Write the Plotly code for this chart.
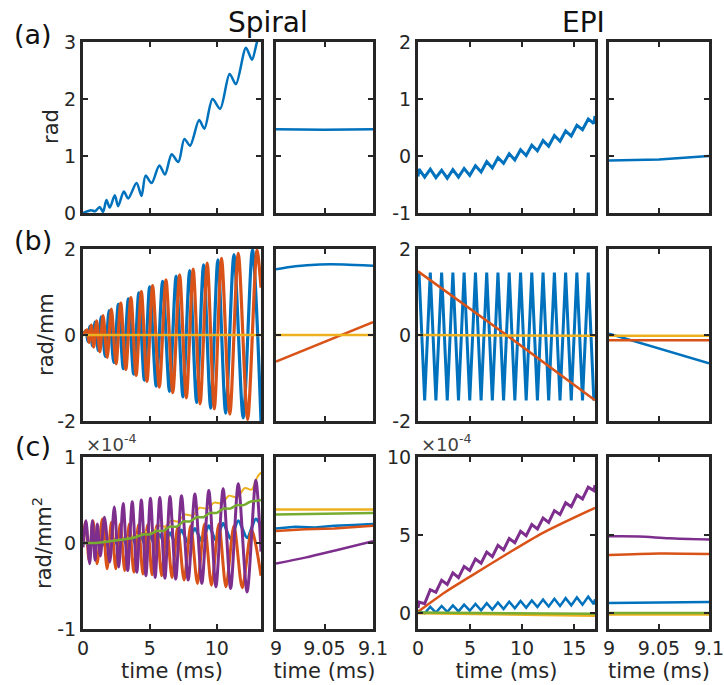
import plotly.graph_objects as go

W, H = 724, 685

# ---------------- colours (MATLAB default order) ----------------
C_BLUE, C_ORANGE, C_YELLOW, C_PURPLE, C_GREEN = "#0072BD", "#D95319", "#EDB120", "#7E2F8E", "#77AC30"

# ---------------- data: Spiral ----------------
# (a) rad
sp_a_t = [0, 0.6, 0.9, 1.25, 1.5, 1.75, 2.0, 2.375, 2.625, 3.05, 3.375, 4.0, 4.375, 4.675, 5.125, 5.7, 6.125,
          6.625, 7.125, 7.575, 8.0, 8.675, 9.075, 9.675, 10.25, 10.95, 11.425, 12.175, 12.625, 13.0, 13.3]
sp_a_v = [0, 0.05, 0.03, 0.107, 0.02, 0.227, 0.095, 0.31, 0.12, 0.376, 0.256, 0.525, 0.3, 0.656, 0.525, 0.835, 0.674,
          1.03, 0.894, 1.3, 1.18, 1.63, 1.48, 2.0, 1.83, 2.44, 2.26, 2.9, 2.69, 3.0, 3.2]
sp_az_t = [9.0, 9.05, 9.1]
sp_az_v = [1.47, 1.46, 1.47]

# (b) rad/mm
sp_b_blue_t = [0, 0.22, 0.37, 0.52, 0.71, 0.9, 1.14, 1.36, 1.66, 1.95, 2.3, 2.64, 3.01, 3.39, 3.78, 4.17, 4.58,
               4.98, 5.47, 5.95, 6.46, 6.96, 7.47, 7.97, 8.49, 9.01, 9.54, 10.08, 10.66, 11.28, 11.97, 12.66, 13.3]
sp_b_blue_v = [0, 0.1, -0.15, 0.2, -0.25, 0.3, -0.36, 0.42, -0.5, 0.57, -0.64, 0.71, -0.78, 0.84, -0.91, 0.98, -1.05,
               1.12, -1.19, 1.25, -1.31, 1.37, -1.44, 1.5, -1.57, 1.63, -1.7, 1.75, -1.82, 1.87, -1.93, 1.98, -2.0]
sp_b_orange_t = [0, 0.3, 0.45, 0.62, 0.8, 1.02, 1.26, 1.5, 1.81, 2.12, 2.47, 2.82, 3.2, 3.58, 3.97, 4.36, 4.78,
                 5.2, 5.7, 6.2, 6.71, 7.22, 7.72, 8.23, 8.75, 9.28, 9.81, 10.35, 10.97, 11.6, 12.3, 13.0, 13.3]
sp_b_orange_v = [0, 0.12, -0.17, 0.23, -0.28, 0.33, -0.39, 0.45, -0.52, 0.6, -0.67, 0.74, -0.8, 0.87, -0.94, 1.01,
                 -1.08, 1.15, -1.21, 1.28, -1.34, 1.4, -1.46, 1.53, -1.6, 1.67, -1.72, 1.78, -1.84, 1.9, -1.96, 1.98, 1.1]
sp_b_yellow_t = [0, 13.3]
sp_b_yellow_v = [0, 0]
sp_bz_blue_t = [9.0, 9.02, 9.045, 9.07, 9.1]
sp_bz_blue_v = [1.53, 1.6, 1.64, 1.64, 1.61]
sp_bz_orange_t = [9.0, 9.1]
sp_bz_orange_v = [-0.62, 0.3]
sp_bz_yellow_t = [9.0, 9.1]
sp_bz_yellow_v = [0, 0]

# (c) rad/mm^2, in units of 1e-4
sp_c_blue_t = [0, 1, 2.0, 2.34, 2.67, 3.0, 3.34, 3.68, 4.02, 4.36, 4.7, 5.04, 5.39, 5.74, 6.12, 6.5, 6.93, 7.36,
               7.86, 8.36, 8.88, 9.4, 9.93, 10.47, 11.03, 11.6, 12.26, 12.91, 13.3]
sp_c_blue_v = [0, 0, -0.03, 0.04, -0.04, 0.05, -0.04, 0.06, -0.04, 0.07, -0.04, 0.08, -0.03, 0.1, -0.02, 0.12, -0.01,
               0.15, 0.0, 0.17, 0.02, 0.2, 0.03, 0.23, 0.05, 0.26, 0.06, 0.28, 0.2]
sp_c_orange_t = [0, 0.2, 0.45, 0.75, 1.05, 1.45, 1.8, 2.12, 2.45, 2.78, 3.12, 3.46, 3.8, 4.14, 4.48, 4.82, 5.16, 5.5,
                 5.88, 6.25, 6.65, 7.08, 7.55, 8.05, 8.55, 9.08, 9.6, 10.15, 10.68, 11.28, 11.9, 12.6, 13.3]
sp_c_orange_v = [0, 0.25, -0.2, 0.26, -0.24, 0.28, -0.3, 0.24, -0.3, 0.22, -0.32, 0.22, -0.34, 0.21, -0.36, 0.21, -0.37,
                 0.2, -0.38, 0.2, -0.4, 0.19, -0.43, 0.2, -0.47, 0.22, -0.49, 0.22, -0.51, 0.2, -0.52, 0.15, -0.38]
sp_c_yellow_t = [0, 1, 2, 3, 4, 4.7, 5.2, 5.7, 6.2, 6.6, 7.1, 7.6, 8.2, 8.7, 9.3, 9.8, 10.4, 10.9, 11.5, 12.1, 12.6,
                 13.0, 13.3]
sp_c_yellow_v = [0, 0.01, 0.03, 0.05, 0.09, 0.13, 0.12, 0.2, 0.19, 0.26, 0.25, 0.33, 0.32, 0.41, 0.4, 0.47, 0.46, 0.55,
                 0.53, 0.64, 0.62, 0.76, 0.82]
sp_c_purple_t = [0, 0.22, 0.5, 0.7, 0.9, 1.07, 1.3, 1.6, 2.0, 2.34, 2.67, 3.0, 3.34, 3.68, 4.02, 4.36, 4.7, 5.04,
                 5.39, 5.74, 6.12, 6.5, 6.93, 7.36, 7.86, 8.36, 8.88, 9.4, 9.93, 10.47, 11.03, 11.6, 12.26, 12.91, 13.3]
sp_c_purple_v = [-0.05, 0.26, -0.24, 0.26, -0.2, 0.22, -0.15, 0.3, -0.22, 0.42, -0.28, 0.46, -0.32, 0.48, -0.34, 0.5,
                 -0.38, 0.52, -0.4, 0.53, -0.41, 0.54, -0.42, 0.55, -0.43, 0.57, -0.47, 0.61, -0.51, 0.63, -0.53, 0.69,
                 -0.57, 0.73, -0.1]
sp_c_green_t = [0, 1, 2, 3, 4, 4.5, 5, 5.5, 6, 6.5, 7, 7.5, 8, 8.5, 9, 9.5, 10, 10.5, 11, 11.5, 12, 12.5, 13, 13.3]
sp_c_green_v = [0, 0, 0.02, 0.04, 0.07, 0.1, 0.1, 0.14, 0.14, 0.19, 0.19, 0.25, 0.25, 0.3, 0.3, 0.35, 0.35, 0.4, 0.4,
                0.44, 0.44, 0.48, 0.49, 0.5]
sp_cz_t_blue = [9.0, 9.02, 9.04, 9.06, 9.08, 9.1]
sp_cz_blue_v = [0.17, 0.19, 0.18, 0.2, 0.21, 0.22]
sp_cz_t_orange = [9.0, 9.03, 9.06, 9.1]
sp_cz_orange_v = [0.14, 0.16, 0.17, 0.2]
sp_cz_t_yellow = [9.0, 9.1]
sp_cz_yellow_v = [0.39, 0.39]
sp_cz_t_purple = [9.0, 9.03, 9.06, 9.1]
sp_cz_purple_v = [-0.24, -0.17, -0.09, 0.02]
sp_cz_t_green = [9.0, 9.1]
sp_cz_green_v = [0.33, 0.35]

# ---------------- data: EPI ----------------
epi_t = [0, 0.1, 0.64, 1.18, 1.72, 2.27, 2.81, 3.35, 3.89, 4.43, 4.97, 5.52, 6.06, 6.6, 7.14, 7.68, 8.22, 8.76,
         9.3, 9.85, 10.39, 10.93, 11.47, 12.01, 12.55, 13.1, 13.64, 14.18, 14.72, 15.26, 15.8, 16.35, 16.89, 17.0]
epi_a_v = [-0.36, -0.23, -0.37, -0.23, -0.38, -0.25, -0.39, -0.24, -0.37, -0.22, -0.34, -0.17, -0.28, -0.10, -0.21,
           -0.03, -0.13, 0.04, -0.07, 0.11, 0.01, 0.19, 0.09, 0.27, 0.17, 0.36, 0.26, 0.44, 0.35, 0.54, 0.46, 0.65,
           0.57, 0.7]
epi_az_t = [9.0, 9.05, 9.1]
epi_az_v = [-0.08, -0.06, 0.0]

epi_b_blue_v = [1.2, 1.45, -1.52, 1.45, -1.52, 1.45, -1.52, 1.45, -1.52, 1.45, -1.52, 1.45, -1.52, 1.45, -1.52,
                1.45, -1.52, 1.45, -1.52, 1.45, -1.52, 1.45, -1.52, 1.45, -1.52, 1.45, -1.52, 1.45, -1.52, 1.45,
                -1.52, 1.45, -1.52, -1.3]
epi_b_orange_t = [0, 8.5, 17]
epi_b_orange_v = [1.48, 0, -1.52]
epi_b_yellow_t = [0, 17]
epi_b_yellow_v = [0, -0.02]
epi_bz_blue_t = [9.0, 9.1]
epi_bz_blue_v = [0.03, -0.66]
epi_bz_orange_t = [9.0, 9.1]
epi_bz_orange_v = [-0.12, -0.12]
epi_bz_yellow_t = [9.0, 9.1]
epi_bz_yellow_v = [-0.02, -0.02]

epi_c_blue_v = [0.12, 0.15, 0.01, 0.42, 0.05, 0.47, 0.09, 0.51, 0.13, 0.56, 0.17, 0.6, 0.2, 0.65, 0.24, 0.7, 0.28,
                0.74, 0.32, 0.79, 0.36, 0.83, 0.4, 0.88, 0.44, 0.93, 0.47, 0.97, 0.51, 1.02, 0.55, 1.07, 0.59, 0.9]
epi_c_orange_t = [0, 2.6, 5, 8.3, 12, 17]
epi_c_orange_v = [0.1, 1.35, 2.35, 3.7, 5.15, 6.75]
epi_c_yellow_t = [0, 17]
epi_c_yellow_v = [0.0, -0.15]
epi_c_purple_v = [0.35, 0.72, 0.62, 1.51, 1.35, 2.12, 1.85, 2.59, 2.28, 3.0, 2.74, 3.48, 3.21, 3.92, 3.63, 4.35, 4.06,
                  4.79, 4.52, 5.25, 4.97, 5.68, 5.4, 6.1, 5.82, 6.57, 6.32, 7.07, 6.82, 7.57, 7.32, 8.07, 7.85, 8.2]
epi_c_green_t = [0, 17]
epi_c_green_v = [0.05, -0.02]
epi_cz_t = [9.0, 9.1]
epi_cz_blue_v = [0.67, 0.73]
epi_cz_green_v = [0.02, 0.02]
epi_cz_yellow_v = [-0.08, -0.08]
epi_cz_purple_t = [9.0, 9.03, 9.06, 9.1]
epi_cz_purple_v = [4.93, 4.92, 4.8, 4.72]
epi_cz_orange_t = [9.0, 9.05, 9.1]
epi_cz_orange_v = [3.73, 3.83, 3.8]

# ---------------- axis settings ----------------
col_px = [(83, 261), (276, 373), (418, 595), (609, 709)]
row_px = [(42, 213), (249, 421), (457, 629)]
x_ranges = [[0, 13.3], [9, 9.1], [0, 17], [9, 9.1]]
x_ticks = [[0, 5, 10], [9, 9.05, 9.1], [0, 5, 10, 15], [9, 9.05, 9.1]]
x_ticktext = [["0", "5", "10"], ["9", "9.05", "9.1"], ["0", "5", "10", "15"], ["9", "9.05", "9.1"]]
y_ranges = [[[0, 3], [-1, 2]], [[-2, 2], [-2, 2]], [[-1, 1], [-1, 10]]]
y_ticks = [[[0, 1, 2, 3], [-1, 0, 1, 2]], [[-2, 0, 2], [-2, 0, 2]], [[-1, 0, 1], [0, 5, 10]]]
y_ticktext = [[["0", "1", "2", "3"], ["-1", "0", "1", "2"]], [["-2", "0", "2"], ["-2", "0", "2"]],
              [["-1", "0", "1"], ["0", "5", "10"]]]

FONT = "DejaVu Sans"
AX_COL = "#262626"

fig = go.Figure()


def pid(r, c):
    return r * 4 + c + 1


def add(r, c, t, v, color, width=2.5, spline=False):
    p = pid(r, c)
    fig.add_trace(go.Scatter(
        x=t, y=v, mode="lines",
        line=dict(color=color, width=width, shape="spline" if spline else "linear", smoothing=0.8),
        xaxis="x" if p == 1 else f"x{p}", yaxis="y" if p == 1 else f"y{p}",
        showlegend=False, hoverinfo="skip"))


# Row a
add(0, 0, sp_a_t, sp_a_v, C_BLUE, 2.5, spline=True)
add(0, 1, sp_az_t, sp_az_v, C_BLUE, 2.5)
add(0, 2, epi_t, epi_a_v, C_BLUE, 3)
add(0, 3, epi_az_t, epi_az_v, C_BLUE, 2.5)
# Row b
add(1, 0, sp_b_blue_t, sp_b_blue_v, C_BLUE, 3.2, spline=True)
add(1, 0, sp_b_orange_t, sp_b_orange_v, C_ORANGE, 3.2, spline=True)
add(1, 0, sp_b_yellow_t, sp_b_yellow_v, C_YELLOW, 2.5)
add(1, 1, sp_bz_blue_t, sp_bz_blue_v, C_BLUE, 2.5, spline=True)
add(1, 1, sp_bz_orange_t, sp_bz_orange_v, C_ORANGE, 2.5)
add(1, 1, sp_bz_yellow_t, sp_bz_yellow_v, C_YELLOW, 2.5)
add(1, 2, epi_t, epi_b_blue_v, C_BLUE, 3)
add(1, 2, epi_b_orange_t, epi_b_orange_v, C_ORANGE, 2.5)
add(1, 2, epi_b_yellow_t, epi_b_yellow_v, C_YELLOW, 2.5)
add(1, 3, epi_bz_blue_t, epi_bz_blue_v, C_BLUE, 2.5)
add(1, 3, epi_bz_orange_t, epi_bz_orange_v, C_ORANGE, 2.5)
add(1, 3, epi_bz_yellow_t, epi_bz_yellow_v, C_YELLOW, 2.5)
# Row c
add(2, 0, sp_c_blue_t, sp_c_blue_v, C_BLUE, 3, spline=True)
add(2, 0, sp_c_orange_t, sp_c_orange_v, C_ORANGE, 3, spline=True)
add(2, 0, sp_c_yellow_t, sp_c_yellow_v, C_YELLOW, 2, spline=True)
add(2, 0, sp_c_purple_t, sp_c_purple_v, C_PURPLE, 3, spline=True)
add(2, 0, sp_c_green_t, sp_c_green_v, C_GREEN, 2.5, spline=True)
add(2, 1, sp_cz_t_blue, sp_cz_blue_v, C_BLUE, 2.5)
add(2, 1, sp_cz_t_orange, sp_cz_orange_v, C_ORANGE, 2.5)
add(2, 1, sp_cz_t_yellow, sp_cz_yellow_v, C_YELLOW, 2.5)
add(2, 1, sp_cz_t_purple, sp_cz_purple_v, C_PURPLE, 2.5, spline=True)
add(2, 1, sp_cz_t_green, sp_cz_green_v, C_GREEN, 2.5)
add(2, 2, epi_t, epi_c_blue_v, C_BLUE, 2.5)
add(2, 2, epi_c_orange_t, epi_c_orange_v, C_ORANGE, 2.5, spline=True)
add(2, 2, epi_c_yellow_t, epi_c_yellow_v, C_YELLOW, 2.5)
add(2, 2, epi_t, epi_c_purple_v, C_PURPLE, 3)
add(2, 2, epi_c_green_t, epi_c_green_v, C_GREEN, 2.5)
add(2, 3, epi_cz_t, epi_cz_blue_v, C_BLUE, 2.5)
add(2, 3, epi_cz_orange_t, epi_cz_orange_v, C_ORANGE, 2.5, spline=True)
add(2, 3, epi_cz_t, epi_cz_yellow_v, C_YELLOW, 2.5)
add(2, 3, epi_cz_purple_t, epi_cz_purple_v, C_PURPLE, 2.5, spline=True)
add(2, 3, epi_cz_t, epi_cz_green_v, C_GREEN, 2.5)

layout = dict(
    width=W, height=H, margin=dict(l=0, r=0, t=0, b=0, autoexpand=False),
    paper_bgcolor="white", plot_bgcolor="white",
    font=dict(family=FONT, color=AX_COL, size=19),
)

for r in range(3):
    for c in range(4):
        p = pid(r, c)
        xk = "xaxis" if p == 1 else f"xaxis{p}"
        yk = "yaxis" if p == 1 else f"yaxis{p}"
        x0, x1 = col_px[c]
        y0, y1 = row_px[r]
        g = c // 2
        layout[xk] = dict(
            domain=[x0 / W, x1 / W], range=x_ranges[c], anchor="y" if p == 1 else f"y{p}",
            tickmode="array", tickvals=x_ticks[c], ticktext=x_ticktext[c],
            showticklabels=(r == 2), ticks="inside", ticklen=5, tickwidth=2, tickcolor=AX_COL,
            showline=True, linewidth=3, linecolor=AX_COL, mirror="allticks",
            showgrid=False, zeroline=False, fixedrange=True, automargin=False,
            ticklabeloverflow="allow",
            tickfont=dict(family=FONT, size=19, color=AX_COL),
        )
        layout[yk] = dict(
            domain=[1 - y1 / H, 1 - y0 / H], range=y_ranges[r][g], anchor="x" if p == 1 else f"x{p}",
            tickmode="array", tickvals=y_ticks[r][g], ticktext=y_ticktext[r][g],
            showticklabels=(c % 2 == 0), ticks="inside", ticklen=5, tickwidth=2, tickcolor=AX_COL,
            showline=True, linewidth=3, linecolor=AX_COL, mirror="allticks",
            showgrid=False, zeroline=False, fixedrange=True, automargin=False,
            ticklabeloverflow="allow",
            tickfont=dict(family=FONT, size=19, color=AX_COL),
        )
        if r == 2:
            layout[xk]["title"] = dict(text="time (ms)", font=dict(family=FONT, size=21, color=AX_COL), standoff=2)

fig.update_layout(**layout)


def ann(text, x, y, size, color="#111111", angle=0, xanchor="center", yanchor="middle"):
    fig.add_annotation(text=text, x=x / W, y=1 - y / H, xref="paper", yref="paper", showarrow=False,
                       font=dict(family=FONT, size=size, color=color), textangle=angle,
                       xanchor=xanchor, yanchor=yanchor)


ann("Spiral", 268, 22, 28)
ann("EPI", 583, 22, 28)
ann("(a)", 33, 34, 27)
ann("(b)", 33, 241, 27)
ann("(c)", 33, 447, 27)
ann("rad", 51, 127, 21, AX_COL, -90)
ann("rad/mm", 46, 335, 21, AX_COL, -90)
ann("rad/mm<sup>2</sup>", 42, 543, 21, AX_COL, -90)
ann("×10<sup>-4</sup>", 84, 443, 18, "#404040", xanchor="left")
ann("×10<sup>-4</sup>", 419, 443, 18, "#404040", xanchor="left")

fig.write_html("out.html", config={"displayModeBar": False},
               post_script="document.body.style.margin='0';document.body.style.padding='0';")
